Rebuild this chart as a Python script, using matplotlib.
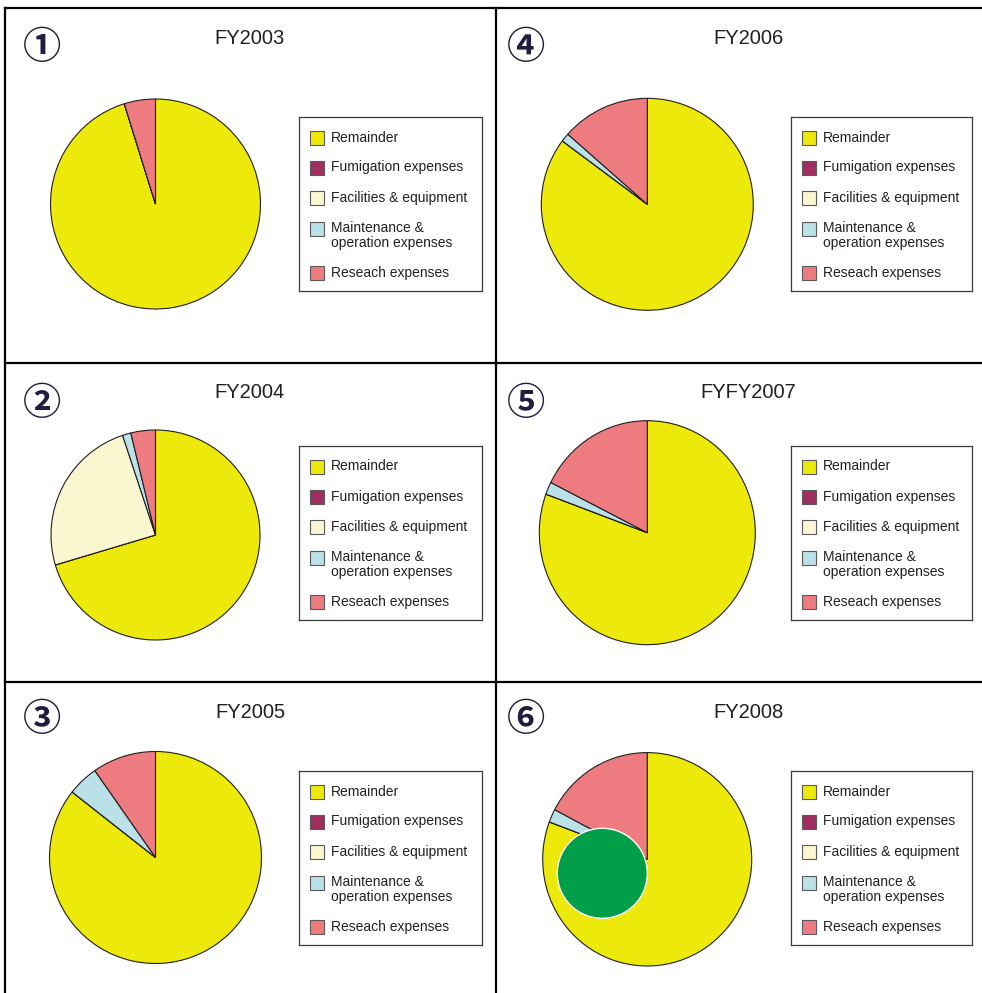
import matplotlib
matplotlib.use('Agg')
import matplotlib.pyplot as plt
from matplotlib.patches import Rectangle, Ellipse
from matplotlib.lines import Line2D

# ---- data (percent of budget) ----
years = ['FY2003', 'FY2004', 'FY2005', 'FY2006', 'FYFY2007', 'FY2008']
marks = ['①', '②', '③', '④', '⑤', '⑥']
categories = ['Remainder', 'Fumigation expenses', 'Facilities & equipment',
              'Maintenance &\noperation expenses', 'Reseach expenses']
remainder = [95.2, 70.4, 85.6, 85.2, 80.6, 80.7]
fumigation = [0.0, 0.0, 0.0, 0.0, 0.0, 0.0]
facilities = [0.0, 24.5, 0.0, 0.0, 0.0, 0.0]
maintenance = [0.0, 1.3, 4.7, 1.3, 1.8, 2.0]
research = [4.8, 3.8, 9.7, 13.5, 17.6, 17.3]

colors = ['#ede90a', '#a02f61', '#faf6d0', '#b9e1e7', '#ee7b80']
edge = '#231f20'
ink = '#231f20'

W, H = 982, 993
fig = plt.figure(figsize=(W / 100, H / 100), dpi=100)


def box(x0, y0, w, h):
    # pixel box (top-left origin) -> figure fraction
    return [x0 / W, 1 - (y0 + h) / H, w / W, h / H]


def fx(x):
    return x / W


def fy(y):
    return 1 - y / H


# frame lines of the 2x3 grid
lw = 1.6
for (x0, y0, x1, y1) in [(5, 8, 982, 8), (5, 8, 5, 993), (496, 8, 496, 993),
                         (5, 363, 982, 363), (5, 682, 982, 682)]:
    fig.add_artist(Line2D([fx(x0), fx(x1)], [fy(y0), fy(y1)], color='black', lw=lw))

# layout per panel
pie_cx = [155.5, 155.5, 155.5, 647.3, 647.3, 647.2]
pie_cy = [204, 535, 857.5, 204.3, 532.7, 859.3]
pie_rx = [105, 104.5, 106, 106, 108, 104.5]
pie_ry = [105, 105, 106, 106, 112, 106.7]
title_x = [250, 748.5]
title_y = [39, 392, 712.5]
mark_x = [42.5, 526]
mark_y = [48, 403.5, 720]
leg_x = [299, 791]
leg_w = [183, 181]
leg_y = [117, 446, 771]
leg_h = 174
entry_y = [20.5, 50.5, 81, 111.5, 156]

for i, year in enumerate(years):
    col, row = i // 3, i % 3
    vals = [remainder[i], fumigation[i], facilities[i], maintenance[i], research[i]]

    rx, ry = pie_rx[i], pie_ry[i]
    ax = fig.add_axes(box(pie_cx[i] - rx, pie_cy[i] - ry, 2 * rx, 2 * ry))
    ax.pie(vals, colors=colors, startangle=90, counterclock=False,
           wedgeprops=dict(edgecolor=edge, linewidth=0.8, clip_on=False))
    ax.set_aspect('auto')
    ax.set_xlim(-1, 1)
    ax.set_ylim(-1, 1)
    ax.axis('off')

    if i == 5:
        # green disc laid over the FY2008 pie
        gx, gy, gr = 602.3, 873.3, 45
        ax.add_patch(Ellipse(((gx - pie_cx[i]) / rx, (pie_cy[i] - gy) / ry),
                             2 * gr / rx, 2 * gr / ry, facecolor='#009e49',
                             edgecolor='white', linewidth=1.0, clip_on=False, zorder=5))

    fig.text(fx(title_x[col]), fy(title_y[row]), year, ha='center', va='center',
             fontsize=14.5, color=ink, family='Liberation Sans')
    fig.text(fx(mark_x[col]), fy(mark_y[row]), marks[i], ha='center', va='center',
             fontsize=27.5, color='#241c40', fontweight='bold',
             family=['Noto Sans CJK JP', 'DejaVu Sans'])

    # legend box
    lax = fig.add_axes(box(leg_x[col], leg_y[row], leg_w[col], leg_h))
    lax.set_xlim(0, leg_w[col])
    lax.set_ylim(leg_h, 0)
    lax.set_xticks([])
    lax.set_yticks([])
    for s in lax.spines.values():
        s.set_linewidth(0.9)
        s.set_color('#3a3a3a')
    for k, lab in enumerate(categories):
        yc = entry_y[k]
        lax.add_patch(Rectangle((11, yc - 7), 14, 14, facecolor=colors[k],
                                edgecolor='#5a5a5a', linewidth=0.8))
        if '\n' in lab:
            lax.text(32, yc - 7.5, lab, ha='left', va='top', fontsize=10.0,
                     color=ink, family='Liberation Sans', linespacing=1.1)
        else:
            lax.text(32, yc, lab, ha='left', va='center', fontsize=10.0,
                     color=ink, family='Liberation Sans')

fig.savefig('out.png', dpi=100)
